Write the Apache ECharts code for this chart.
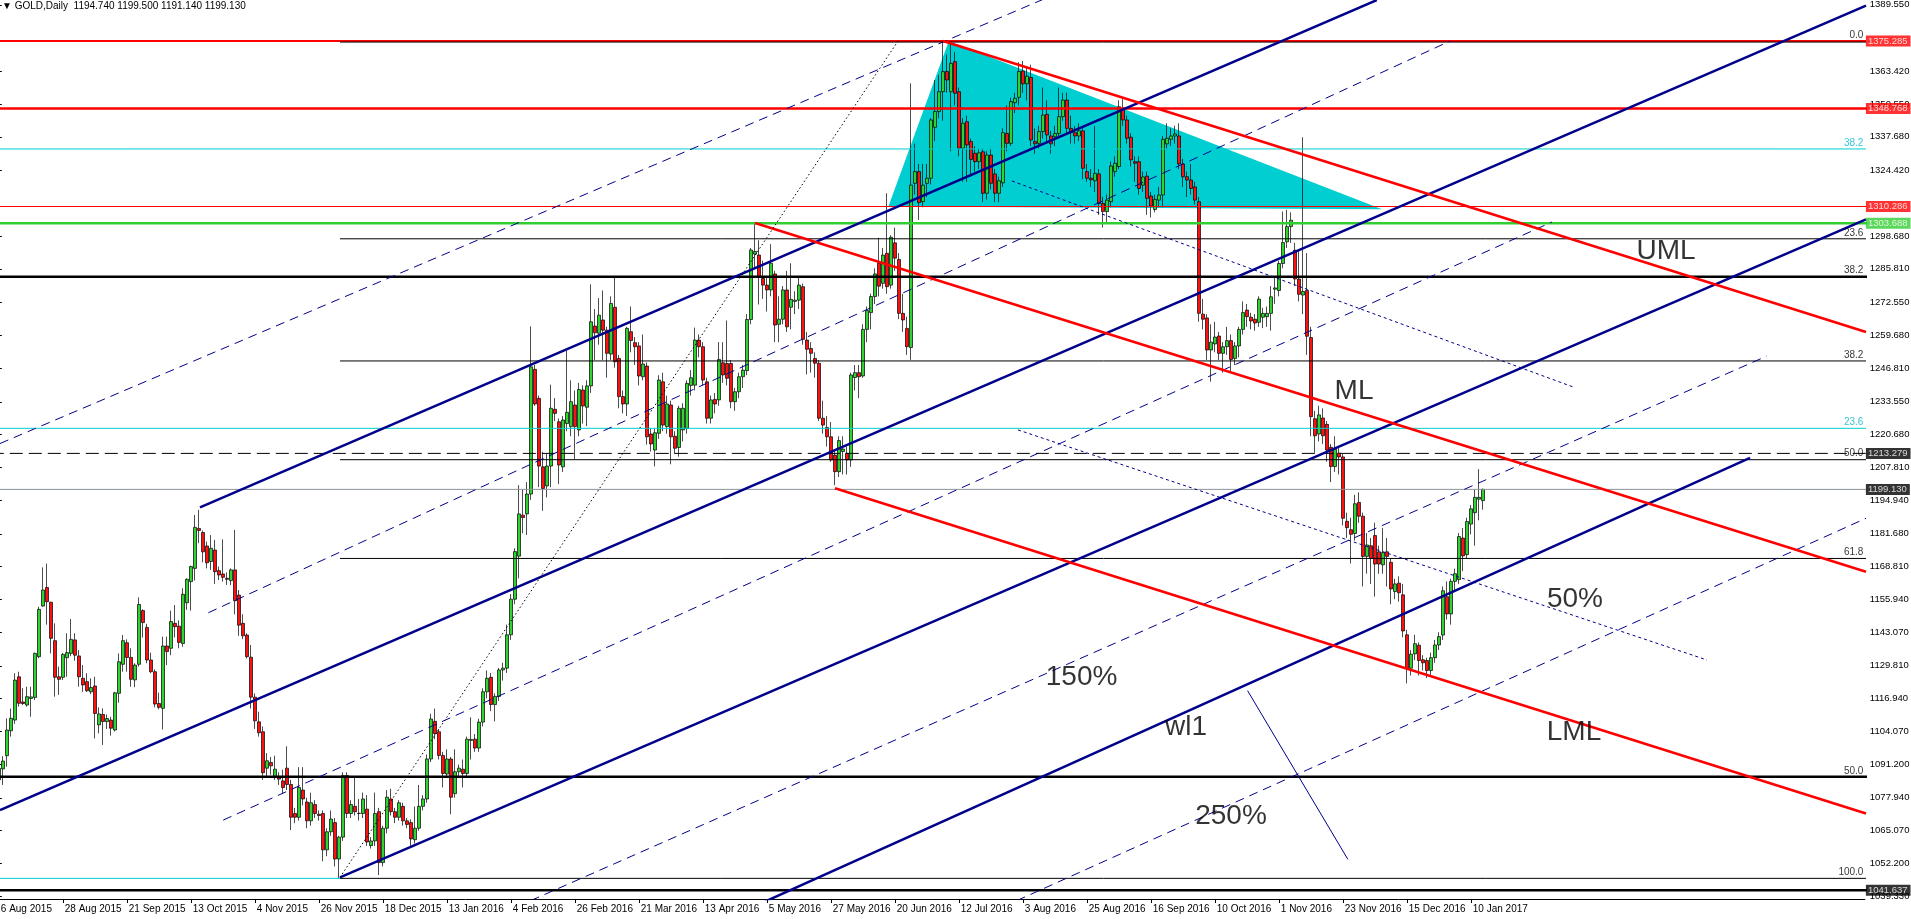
<!DOCTYPE html>
<html>
<head>
<meta charset="utf-8">
<script src="https://cdn.jsdelivr.net/npm/echarts@6/dist/echarts.min.js"></script>
<style>
html,body{margin:0;padding:0;background:#ffffff;}
#chart{width:1911px;height:919px;}
</style>
</head>
<body>
<div id="chart"></div>
<script>
// ---------------- DATA ----------------
// Daily GOLD candles, each row [open, close, low, high], first bar = 6 Aug 2015
const candlesAugOct2015 = [
[1085.0,1089.5,1083.6,1090.5],[1089.3,1092.4,1083.0,1094.3],[1094.5,1104.6,1090.2,1109.2],[1104.3,1109.2,1102.0,1113.0],
[1108.5,1124.2,1107.0,1126.9],[1125.5,1115.1,1113.8,1127.5],[1115.6,1115.0,1114.4,1121.0],[1114.4,1117.7,1113.8,1121.6],
[1117.0,1117.6,1109.8,1121.6],[1117.4,1134.7,1116.4,1135.0],[1133.4,1152.0,1132.8,1153.0],[1153.3,1159.6,1153.0,1168.5],
[1160.6,1155.0,1146.0,1170.0],[1154.8,1140.6,1134.7,1155.0],[1139.7,1125.3,1117.7,1146.5],[1125.5,1124.5,1118.4,1129.5],
[1125.3,1134.3,1124.2,1134.9],[1133.0,1135.0,1125.5,1142.6],[1134.7,1140.2,1133.6,1148.2],[1140.0,1134.0,1131.8,1142.6],
[1133.7,1125.5,1121.6,1136.0],[1124.9,1122.3,1119.6,1130.1],[1123.6,1120.0,1119.6,1126.9],[1119.6,1121.3,1118.7,1124.9],
[1121.9,1111.1,1101.3,1125.5],[1106.6,1110.9,1103.3,1113.5],[1110.7,1107.9,1098.7,1113.1],[1107.9,1109.1,1105.0,1110.7],
[1108.5,1105.3,1102.4,1109.8],[1104.6,1119.2,1104.0,1119.6],[1119.0,1131.4,1115.3,1134.7],[1130.4,1139.7,1127.5,1141.9],
[1138.9,1133.1,1127.5,1140.2],[1133.1,1124.5,1121.6,1136.7],[1124.3,1130.1,1121.4,1130.8],[1130.4,1153.9,1129.5,1156.7],
[1151.5,1146.8,1140.9,1152.0],[1144.9,1132.1,1130.8,1146.3],[1132.1,1127.5,1126.9,1135.0],[1127.5,1114.8,1113.5,1128.4],
[1115.0,1113.5,1112.7,1119.3],[1113.1,1137.6,1104.8,1141.3],[1137.6,1135.4,1130.1,1141.3],[1136.7,1147.2,1134.0,1151.5],
[1146.5,1145.2,1141.0,1153.7],[1145.4,1139.0,1136.7,1147.7],[1138.6,1157.9,1137.3,1160.3],[1154.6,1163.8,1151.8,1164.2],
[1162.9,1168.8,1151.5,1169.2],[1168.1,1184.2,1163.3,1189.1],[1183.8,1183.0,1178.0,1191.0],[1182.2,1174.6,1170.5,1183.0],
[1176.9,1170.3,1168.1,1178.6],[1170.8,1176.0,1167.5,1181.2],[1175.3,1166.8,1162.0,1179.3],[1167.2,1165.5,1163.5,1168.8],
[1165.9,1164.6,1162.9,1179.5],[1164.2,1163.8,1161.6,1166.5],[1163.3,1167.5,1161.5,1168.1],[1167.5,1155.4,1150.0,1183.2],
[1157.6,1145.8,1141.6,1159.6],[1146.5,1141.6,1140.3,1150.1],[1141.9,1133.4,1132.7,1142.6]
];
const candlesNov2015Feb2016 = [
[1133.2,1117.5,1113,1138],[1117.5,1108.2,1105,1119],[1107.8,1103.5,1102,1111.8],[1103.9,1087.8,1085,1106],
[1089.6,1092.5,1086,1095.5],[1091.8,1090.5,1087,1094],[1086.3,1089.2,1085,1094.5],[1086.3,1085.3,1083,1088],
[1084.6,1082,1079.5,1089],[1089.6,1083.2,1081,1098.2],[1083.2,1070.3,1065.3,1085],[1071.8,1070.3,1068,1074],
[1070.3,1082,1069,1090],[1081,1077.5,1075,1090],[1076.3,1068.9,1066,1078],[1068.9,1076,1067,1080],
[1075.3,1071.8,1070,1077],[1071.5,1071,1069,1073],[1071.8,1057.5,1053,1073],[1057.5,1064.6,1055,1066],
[1064.6,1069.6,1063,1073],[1068.2,1053.9,1051,1070],[1053.9,1062.5,1046.3,1063],[1062.5,1086.7,1061,1088],
[1086.7,1071.8,1070,1088],[1071.8,1075.3,1070,1077],[1074.6,1072.5,1071,1086],[1071.8,1071.9,1069,1077.5],
[1071.8,1077.5,1070,1080],[1073.5,1060.6,1059,1079],[1059.2,1061,1058,1062.5],[1061,1071.8,1059,1080],
[1072.5,1052.5,1047.6,1074],[1052.5,1066,1051,1067],[1066,1078.2,1064,1081],[1077.5,1072.5,1071,1081.5],
[1072.5,1070.3,1068,1074],[1070.3,1076,1069,1077],[1074.6,1068.9,1067,1076],[1068.9,1067.5,1066,1070],
[1068.2,1061.8,1059,1069.5],[1061.5,1066,1060,1074.5],[1066,1074.6,1065,1083],[1074.6,1077.5,1073,1079],
[1077.5,1093.2,1076,1095],[1093.2,1108.9,1092,1111],[1108,1103.2,1101,1113],[1103.9,1094.6,1093,1105],
[1094.6,1087.5,1082,1096],[1087.3,1093.2,1086,1097],[1093.2,1078.2,1071.5,1094],[1079.6,1088.2,1078,1097],
[1088.2,1089.6,1086,1091],[1089.2,1087.5,1082,1093],[1087.5,1101,1086,1102],[1100.5,1100.9,1093,1109.6],
[1101,1097.5,1096,1103],[1097.5,1107.7,1096,1109],[1107.7,1119.6,1106,1121],[1119.6,1124.9,1117,1128],
[1125.3,1114.6,1112,1127],[1114.6,1117.8,1108,1119],[1117.8,1128.2,1116,1129],[1128.2,1128.9,1124,1131],
[1128.9,1142,1127,1146],[1142,1156,1140,1158],[1156,1174.7,1154,1176]
];
const candlesFebApr2016 = [
[1172.9,1189.5,1164.2,1200.8],[1189,1188.1,1181.9,1199.2],[1189.5,1197.3,1181.2,1202],[1197.3,1247.3,1195,1263.2],
[1246.3,1232.7,1232,1248],[1234.9,1208.3,1200,1236],[1208,1199.5,1190.7,1213.9],[1200.5,1208.3,1196,1213],
[1208.3,1231,1200,1240.3],[1230.6,1229,1226,1235],[1225.7,1208.7,1201.2,1227],[1208,1226.4,1206,1228],
[1225,1229.4,1222,1253.6],[1223.8,1233.6,1220,1242],[1232.3,1223.8,1211,1238],[1222.5,1238.4,1220,1241],
[1238.2,1231.9,1225,1240],[1231.4,1239.8,1224,1242],[1239.8,1265,1237,1279.7],[1263.3,1260.7,1250,1270],
[1260.5,1267.6,1256,1274.3],[1265.7,1261.7,1250,1277.3],[1261.7,1252.6,1243,1263],[1252.3,1272.2,1250,1275],
[1270.7,1249.3,1247,1282.5],[1250.6,1235.6,1231,1252],[1235.6,1232.7,1229,1238],[1232.7,1262.4,1228,1263],
[1261.1,1257.6,1253,1271],[1256.8,1255.2,1248,1259],[1255.5,1243.7,1240,1257],[1243.4,1248.4,1242,1260],
[1247.6,1219.8,1216.7,1249],[1220.9,1217,1214,1223],[1214.6,1221.4,1208.2,1223],[1221.2,1242.1,1219,1244],
[1241.4,1224.4,1222,1245],[1223.8,1232.7,1221,1236],[1232.3,1219.8,1209,1234],[1220,1215.3,1213,1222],
[1215.6,1231,1212,1232],[1222.5,1231,1218,1233],[1223.1,1240.8,1221,1242],[1240,1243,1236,1246],
[1240.1,1257.8,1238,1262.7],[1257.8,1255.2,1251,1260],[1255.2,1242.1,1240,1257],[1241.4,1227.1,1225,1243],
[1227.1,1234.3,1225,1236],[1234.5,1232.7,1229,1237],[1234.3,1250.2,1232,1257],[1248.9,1244.1,1241,1257],
[1248.6,1242.8,1240,1265.5],[1248.6,1233.6,1231,1250],[1233.6,1237.5,1230,1239],[1237.5,1243.4,1235,1245],
[1243.4,1246,1239,1248],[1245.8,1265.9,1244,1268]
];
const candlesMayJul2016 = [
[1265.9,1293.2,1264,1294],[1291.6,1292.6,1286,1303.8],[1291.2,1282.7,1271.8,1297],[1282,1279.4,1274,1289],
[1279.4,1277.5,1269,1283],[1277.5,1288,1275,1295.5],[1283.8,1263.7,1257,1285],[1264,1266,1257,1275],
[1266,1277.5,1264,1279],[1277.5,1263,1261,1285],[1270.7,1273.8,1262,1288],[1273,1273.5,1268,1277],
[1273.5,1279.4,1270,1283],[1278.8,1258.1,1256,1280],[1257.8,1254.2,1244.3,1261],[1254.5,1252.6,1245,1257],
[1250.6,1248.7,1243,1253],[1248.7,1227.1,1226,1250],[1227.1,1224.4,1221,1234],[1223.5,1219.8,1216,1228],
[1219.8,1210.7,1210,1225.6],[1212.6,1206.1,1200.8,1215],[1206.1,1218.3,1204,1220],[1214,1215,1205,1220],
[1213.3,1210.7,1205,1216],[1210.7,1244.1,1208,1245],[1243.1,1245,1238,1248],[1245,1243.4,1235,1248],
[1243.7,1262,1243,1264],[1262,1269.4,1257,1271],[1268.6,1274.9,1262,1276],[1274.9,1283.8,1272,1286],
[1288,1279,1275,1298],[1280.1,1291.2,1278,1294],[1291.9,1278.8,1276,1315.5],[1279.4,1298.2,1278,1299],
[1296,1290,1285,1302],[1289.5,1268.3,1266,1292],[1268.3,1265.7,1261,1276],[1262.4,1255.2,1252,1267],
[1254.9,1318.7,1250,1358.7],[1319.4,1324,1315,1335],[1324,1311.8,1305,1327],[1312.2,1318.7,1310,1327],
[1319.4,1321.4,1314,1327],[1321.4,1344.3,1319,1345],[1341.4,1347.6,1336,1360],[1347.6,1355.4,1345,1362],
[1355.4,1363.3,1344,1375.3],[1363.3,1360,1355,1370],[1355.4,1366.5,1332,1375],[1367.2,1354.8,1350,1371],
[1355.4,1333.2,1330,1357],[1333.2,1343,1320,1345],[1343.6,1334.5,1320,1346],[1335.8,1328.8,1322,1337],
[1331.2,1327.9,1324,1334],[1327.9,1331.4,1325,1333],[1331.8,1315.5,1312,1333],[1315.5,1330.5,1313,1332],
[1330.5,1319.4,1317,1333],[1323.1,1315.5,1312,1325],[1315.5,1320.4,1312,1322],[1319.6,1339.3,1318,1341],
[1339,1335.1,1332,1350]
];
const candlesAugOct2016 = [
[1335.1,1351.5,1334,1353],[1351.1,1352.8,1347,1355],[1353.2,1363.3,1350,1367],[1363.5,1358.5,1355,1367.5],
[1358.5,1361.5,1352,1365],[1361,1336.4,1334,1366],[1335.8,1334.9,1331,1341],[1335.1,1339.7,1333,1342],
[1339.7,1346.2,1337,1357],[1346.5,1338.4,1336,1352],[1338,1334.9,1331,1340],[1337.7,1339,1334,1342],
[1339,1345.6,1337,1357],[1345.6,1352.1,1344,1355],[1352.1,1341,1339,1355],[1341,1339.3,1335,1346],
[1339.3,1338,1335,1342],[1338,1340,1336,1343],[1340,1325.3,1321,1341],[1324,1321.4,1320,1327],
[1321.4,1320.8,1318,1325],[1320.4,1323.3,1316,1342],[1323.1,1311.5,1307,1325],[1311.5,1308.3,1302,1314],
[1308.3,1312.8,1304,1315],[1312.2,1326.2,1310,1328],[1324,1327.3,1322,1330],[1326,1349.5,1325,1352],
[1348.9,1344.3,1342,1352.5],[1344.3,1337.1,1335,1346],[1337.5,1328.6,1326,1339],[1327.9,1327.3,1320,1330],
[1327.9,1317.4,1315,1330],[1318.7,1321.9,1316,1324],[1322.2,1313.5,1307,1324],[1314.4,1310.5,1306,1316],
[1309.1,1313.1,1308,1315],[1312.8,1314.8,1310,1318],[1314.8,1336.7,1310,1338],[1334.9,1337.1,1333,1343],
[1336.7,1338,1334,1341],[1338,1338.8,1335,1342],[1338,1327,1325,1343],[1327,1322,1318,1329],
[1322,1320.7,1314,1324],[1320.7,1317.4,1315,1327],[1318,1312.8,1311,1320],[1312.2,1268.3,1265,1314],
[1268,1266,1262,1274],[1266.5,1253.9,1250,1268],[1253.9,1257,1241.5,1264],[1256.3,1259,1253,1265],
[1259.4,1252.6,1250,1261],[1252.6,1255.2,1245,1257],[1255.2,1257.6,1252,1263],[1257.6,1250.2,1245,1260],
[1250.6,1255.5,1248,1257],[1255.5,1262,1251,1263],[1262,1268.6,1260,1273],[1269.6,1267,1263,1272]
];
const candlesOct2016Jan2017 = [
[1266.8,1265.3,1262,1268.5],[1266,1264.5,1261.5,1268],[1264.8,1273.9,1263,1275],[1266.8,1268.3,1262.5,1270.5],
[1267,1268.3,1263,1271],[1268.3,1274.8,1261.5,1279],[1277.8,1278.3,1272,1282.5],[1277.3,1287.9,1275,1289],
[1287.9,1296.1,1286,1308.3],[1296.4,1302.4,1294,1309],[1302.4,1304.9,1296,1308],[1293.1,1281.8,1279,1296],
[1281.8,1275.8,1273,1293],[1275.5,1276.9,1268,1337.5],[1277.3,1259.3,1252,1292],[1258.8,1227.7,1220,1263],
[1226.9,1220.2,1213.5,1230],[1220.9,1228.4,1218,1232],[1227.2,1220.2,1217,1231],[1224.7,1214.6,1210,1226],
[1215.7,1208.1,1202,1217],[1208.1,1214.9,1206,1220],[1213.4,1211.9,1205,1216],[1211.9,1187.8,1185,1213],
[1186.6,1184.1,1180,1190],[1183.3,1181.5,1170,1188],[1181.8,1193.5,1179,1197],[1194,1188.6,1186,1198],
[1188.6,1172.8,1161,1190],[1172.8,1177.3,1166,1182],[1177,1172,1162,1180],[1181,1169.8,1157,1186],
[1174.6,1169.8,1166,1177],[1169.5,1174.3,1166,1184],[1174.6,1172.8,1161,1180],[1170.5,1160,1154,1172],
[1159,1162,1156,1164],[1162.3,1158.5,1155,1165],[1157.7,1143.5,1141,1162],[1142,1128.9,1122.9,1144],
[1128.9,1134.4,1126,1136],[1134.5,1138.5,1132,1142],[1137.9,1131.9,1126,1139],[1132.2,1131,1128,1134],
[1131.9,1128,1125,1133],[1128,1133,1126,1135],[1133,1138,1131,1140],[1138,1141.3,1136,1143],
[1141.9,1159.3,1140,1161],[1157,1150.2,1148,1163],[1150.2,1163,1146,1164],[1163,1166,1159,1168],
[1163.7,1180.6,1162,1182],[1180,1173,1167,1184],[1173.5,1186.5,1172,1188],[1185.5,1191.5,1181.5,1193],
[1190,1196,1177,1199],[1195.3,1196,1187,1207.1],[1194.74,1199.13,1191.14,1199.5]
];

// x-axis date labels, one every 16 bars starting with bar 0
const dateLabels = ['6 Aug 2015','28 Aug 2015','21 Sep 2015','13 Oct 2015','4 Nov 2015','26 Nov 2015',
  '18 Dec 2015','13 Jan 2016','4 Feb 2016','26 Feb 2016','21 Mar 2016','13 Apr 2016','5 May 2016',
  '27 May 2016','20 Jun 2016','12 Jul 2016','3 Aug 2016','25 Aug 2016','16 Sep 2016','10 Oct 2016',
  '1 Nov 2016','23 Nov 2016','15 Dec 2016','10 Jan 2017'];

// price axis tick labels
const priceTicks = [1389.55,1363.42,1350.55,1337.68,1324.42,1298.68,1285.81,1272.55,1259.68,1246.81,
  1233.55,1220.68,1207.81,1194.94,1181.68,1168.81,1155.94,1143.07,1129.81,1116.94,1104.07,1091.20,
  1077.94,1065.07,1052.20,1039.33];

// full-width horizontal levels: [price, color, width, dashed]
const levelLines = [
  [1375.285,'#ff0000',2,false],[1348.768,'#ff0000',2.5,false],[1332.9,'#00ced1',1,false],
  [1310.286,'#ff0000',1,false],[1303.688,'#32cd32',2.5,false],[1282.7,'#000000',2.5,false],
  [1223.13,'#00ced1',1,false],[1213.279,'#000000',1,true],[1199.13,'#8c939a',1,false],
  [1086.2,'#000000',2.5,false],[1041.637,'#000000',2.5,false]
];
// coloured price tags on the axis: [price, background]
const priceTags = [[1375.285,'#ff0000'],[1348.768,'#ff0000'],[1310.286,'#ff0000'],[1303.688,'#32cd32'],
  [1213.279,'#000000'],[1199.130,'#000000'],[1041.637,'#000000']];

// Fibonacci retracement (Dec-2015 low to Jul-2016 high), starts at bar 85.3
const fibStartBar = 85.3;
const fibLevels = [[1374.9,'0.0'],[1297.6,'23.6'],[1249.6,'38.2'],[1210.8,'50.0'],[1172.0,'61.8'],[1046.3,'100.0']];
// other level captions: [price, text, color]
const levelCaptions = [[1332.9,'38.2','#00b8c8'],[1282.7,'38.2','#000000'],[1223.13,'23.6','#00b8c8'],[1086.2,'50.0','#000000']];

// trend / pitchfork lines as [barIndex0, price0, barIndex1, price1]
const blueForkSolid = [
  [0.3,1073.15,466.8,1389.2],
  [50.3,1192.1,344.5,1391.4],
  [85.3,1046.7,466.8,1305.2],
  [190.3,1036.3,437.8,1211.5]
];
const blueForkDashed = [
  [0.3,1217.16,262.0,1392.3],
  [52.4,1150.68,362.8,1375.3],
  [56.1,1069.2,388.3,1304.2],
  [133.0,1037.57,441.97,1251.5],
  [254.5,1037.55,466.8,1187.77]
];
const blueDotted = [[253.3,1320.3,393.55,1239.4],[254.8,1222.5,427.05,1132.1]];
const bluePerpendicular = [[312.2,1120.03,337.25,1053.8]];
const redFork = [[236.05,1375.3,466.8,1260.97],[189.05,1303.8,466.8,1166.8],[209.05,1199.56,466.8,1071.8]];
const fibDiagonal = [[85.3,1046.7,224.8,1375.3]];
const cyanTriangle = [[222.4,1310.3],[237.5,1375.3],[345.8,1309.2]];

// text annotations: [barIndex, price, text]
const annotations = [[416.8,1292.6,'UML'],[338.8,1237.6,'ML'],[394.05,1155.98,'50%'],[393.8,1103.7,'LML'],
  [270.7,1125.5,'150%'],[296.8,1105.6,'wl1'],[308.05,1070.5,'250%']];

// ---------------- CHART ----------------
const candles = [].concat(candlesAugOct2015, candlesNov2015Feb2016, candlesFebApr2016,
  candlesMayJul2016, candlesAugOct2016, candlesOct2016Jan2017);
const SLOTS = 467;
const categories = Array.from({length: SLOTS}, (_, i) => String(i));
const Y_MIN = 1038.19, Y_MAX = 1391.43;
const FONT = 'Liberation Sans, Arial, sans-serif';
const labelEvery = (i) => i % 16 === 0 && i / 16 < dateLabels.length;

function segSeries(seg, color, width, type, z) {
  return {
    type: 'line', xAxisIndex: 1, yAxisIndex: 0, silent: true, animation: false,
    symbol: 'none', z: z || 4, clip: true,
    data: [[seg[0], seg[1]], [seg[2], seg[3]]],
    lineStyle: {color: color, width: width, type: type || 'solid', cap: 'butt'}
  };
}

const series = [];
// cyan triangle (behind candles)
series.push({
  type: 'custom', xAxisIndex: 1, yAxisIndex: 0, z: 1, silent: true, animation: false,
  data: [[cyanTriangle[1][0], cyanTriangle[1][1]]],
  renderItem: function (params, api) {
    return {type: 'polygon', shape: {points: cyanTriangle.map(p => api.coord(p))},
      style: {fill: '#00ced1'}};
  }
});
// candles
series.push({
  type: 'candlestick', xAxisIndex: 0, yAxisIndex: 0, z: 3, animation: false, large: false,
  data: candles, barWidth: 3,
  itemStyle: {color: '#2fd22f', color0: '#ff1010', borderColor: '#000000', borderColor0: '#000000', borderWidth: 0.7}
});
// horizontal levels
levelLines.forEach(l => {
  series.push(segSeries([-2, l[0], 470, l[0]], l[1], l[2], l[3] ? [13, 6] : 'solid', 4));
});
fibLevels.forEach(f => series.push(segSeries([fibStartBar, f[0], 470, f[0]], '#000000', 1, 'solid', 4)));
series.push(segSeries([-2, 1046.3, fibStartBar, 1046.3], '#00ced1', 1, 'solid', 4));
// pitchforks and trend lines
blueForkSolid.forEach(s => series.push(segSeries(s, '#00008b', 2.5, 'solid', 5)));
blueForkDashed.forEach(s => series.push(segSeries(s, '#00008b', 1, [9, 6], 5)));
blueDotted.forEach(s => series.push(segSeries(s, '#00008b', 1, [3, 3], 5)));
bluePerpendicular.forEach(s => series.push(segSeries(s, '#00008b', 1, 'solid', 5)));
redFork.forEach(s => series.push(segSeries(s, '#ff0000', 2.5, 'solid', 5)));
fibDiagonal.forEach(s => series.push(segSeries(s, '#000000', 1, [1.5, 2.5], 5)));

// level captions (right end, above the line)
const capData = [];
fibLevels.forEach(f => capData.push({value: [466.15, f[0] === 1374.9 ? 1375.285 : f[0]], label: {formatter: f[1], color: '#000'}}));
levelCaptions.forEach(c => capData.push({value: [466.15, c[0]], label: {formatter: c[1], color: c[2]}}));
series.push({
  type: 'scatter', xAxisIndex: 1, yAxisIndex: 0, z: 6, silent: true, animation: false, symbolSize: 0, clip: false,
  data: capData,
  label: {show: true, position: 'left', distance: 0, align: 'right', verticalAlign: 'bottom',
    offset: [0, -1], fontSize: 10, fontFamily: FONT}
});
// coloured price tags on the axis
series.push({
  type: 'scatter', xAxisIndex: 1, yAxisIndex: 0, z: 7, silent: true, animation: false, symbolSize: 0, clip: false,
  data: priceTags.map(t => ({value: [466.4, t[0]], label: {formatter: t[0].toFixed(3), backgroundColor: t[1]}})),
  label: {show: true, position: 'right', distance: 1.5, color: '#ffffff', fontSize: 9.5, fontFamily: FONT,
    padding: [1, 3, 0, 2]}
});
// big annotations
series.push({
  type: 'scatter', xAxisIndex: 1, yAxisIndex: 0, z: 6, silent: true, animation: false, symbolSize: 0, clip: false,
  data: annotations.map(a => ({value: [a[0], a[1]], label: {formatter: a[2]}})),
  label: {show: true, position: 'inside', color: '#000000', fontSize: 28, fontFamily: FONT}
});

const chart = echarts.init(document.getElementById('chart'), null, {renderer: 'canvas'});
chart.setOption({
  animation: false,
  backgroundColor: '#ffffff',
  title: {
    text: '\u25BC GOLD,Daily  1194.740 1199.500 1191.140 1199.130',
    left: 2, top: 1, padding: 0,
    textStyle: {fontSize: 10, fontWeight: 'normal', color: '#000000', fontFamily: FONT}
  },
  grid: {left: -3.2, right: 46.2, top: 0, bottom: 20, containLabel: false, outerBoundsMode: 'none'},
  xAxis: [
    {
      type: 'category', data: categories, boundaryGap: true,
      axisLine: {show: true, lineStyle: {color: '#000000', width: 1}},
      axisTick: {show: true, alignWithLabel: true, interval: labelEvery, length: 4, lineStyle: {color: '#000000'}},
      axisLabel: {show: true, interval: labelEvery, align: 'left', margin: 5, padding: [0, 0, 0, 2],
        fontSize: 10, color: '#000000', fontFamily: FONT,
        formatter: function (value, index) { return dateLabels[index / 16] || ''; }},
      splitLine: {show: false}
    },
    {type: 'value', min: -0.5, max: SLOTS - 0.5, show: false}
  ],
  yAxis: [{
    type: 'value', position: 'right', min: Y_MIN, max: Y_MAX, scale: true,
    axisLine: {show: true, lineStyle: {color: '#000000', width: 1}},
    axisTick: {show: true, length: 3, customValues: priceTicks, lineStyle: {color: '#000000'}},
    axisLabel: {show: true, customValues: priceTicks, margin: 5, fontSize: 9.5, color: '#000000', fontFamily: FONT,
      formatter: function (v) { return v.toFixed(3); }},
    splitLine: {show: false}
  }],
  series: series
});
</script>
</body>
</html>
